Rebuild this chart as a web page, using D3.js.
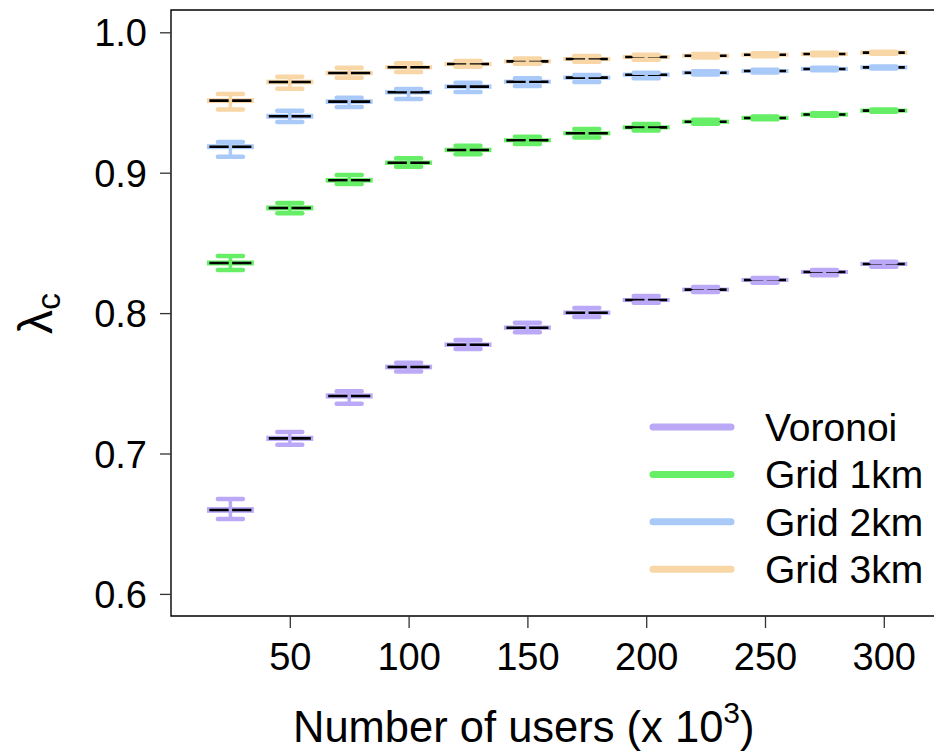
<!DOCTYPE html>
<html>
<head>
<meta charset="utf-8">
<script src="https://cdn.jsdelivr.net/npm/d3@7"></script>
<style>
  body { margin: 0; background: #fff; }
  svg text { font-family: "Liberation Sans", Arial, sans-serif; fill: #000; }
</style>
</head>
<body>
<svg id="chart" width="934" height="754"></svg>
<script>
// number of users (x 10^3)
const users = [25, 50, 75, 100, 125, 150, 175, 200, 225, 250, 275, 300]

// each row: [lower whisker, q1, median, q3, upper whisker]
const voronoi = [
  [0.6534, 0.6588, 0.6598, 0.6608, 0.6676],
  [0.7063, 0.7100, 0.7108, 0.7116, 0.7153],
  [0.7355, 0.7402, 0.7410, 0.7418, 0.7443],
  [0.7584, 0.7610, 0.7616, 0.7622, 0.7647],
  [0.7744, 0.7770, 0.7775, 0.7780, 0.7808],
  [0.7863, 0.7891, 0.7896, 0.7901, 0.7932],
  [0.7972, 0.7998, 0.8003, 0.8008, 0.8037],
  [0.8074, 0.8089, 0.8093, 0.8097, 0.8122],
  [0.8150, 0.8163, 0.8167, 0.8171, 0.8186],
  [0.8217, 0.8232, 0.8236, 0.8240, 0.8250],
  [0.8269, 0.8289, 0.8293, 0.8297, 0.8307],
  [0.8331, 0.8346, 0.8350, 0.8354, 0.8366]
]
const grid1 = [
  [0.8307, 0.8350, 0.8357, 0.8364, 0.8407],
  [0.8711, 0.8742, 0.8749, 0.8756, 0.8784],
  [0.8920, 0.8940, 0.8946, 0.8952, 0.8984],
  [0.9043, 0.9066, 0.9071, 0.9076, 0.9103],
  [0.9131, 0.9157, 0.9162, 0.9167, 0.9192],
  [0.9204, 0.9227, 0.9231, 0.9235, 0.9256],
  [0.9250, 0.9277, 0.9281, 0.9285, 0.9311],
  [0.9300, 0.9319, 0.9323, 0.9327, 0.9347],
  [0.9348, 0.9359, 0.9363, 0.9367, 0.9378],
  [0.9380, 0.9386, 0.9390, 0.9394, 0.9400],
  [0.9405, 0.9410, 0.9414, 0.9418, 0.9424],
  [0.9434, 0.9438, 0.9442, 0.9446, 0.9450]
]
const grid2 = [
  [0.9114, 0.9178, 0.9185, 0.9192, 0.9219],
  [0.9361, 0.9395, 0.9402, 0.9409, 0.9442],
  [0.9468, 0.9500, 0.9506, 0.9512, 0.9534],
  [0.9525, 0.9568, 0.9573, 0.9578, 0.9596],
  [0.9575, 0.9608, 0.9613, 0.9618, 0.9641],
  [0.9618, 0.9644, 0.9648, 0.9652, 0.9672],
  [0.9646, 0.9673, 0.9677, 0.9681, 0.9696],
  [0.9672, 0.9694, 0.9698, 0.9702, 0.9712],
  [0.9700, 0.9708, 0.9712, 0.9716, 0.9722],
  [0.9714, 0.9720, 0.9724, 0.9728, 0.9734],
  [0.9730, 0.9735, 0.9739, 0.9743, 0.9748],
  [0.9742, 0.9746, 0.9750, 0.9754, 0.9757]
]
const grid3 = [
  [0.9450, 0.9506, 0.9513, 0.9520, 0.9560],
  [0.9598, 0.9640, 0.9646, 0.9652, 0.9684],
  [0.9677, 0.9705, 0.9710, 0.9715, 0.9748],
  [0.9717, 0.9747, 0.9751, 0.9755, 0.9779],
  [0.9755, 0.9770, 0.9774, 0.9778, 0.9795],
  [0.9776, 0.9789, 0.9793, 0.9797, 0.9813],
  [0.9790, 0.9806, 0.9810, 0.9814, 0.9832],
  [0.9805, 0.9820, 0.9824, 0.9828, 0.9840],
  [0.9820, 0.9829, 0.9833, 0.9837, 0.9845],
  [0.9830, 0.9836, 0.9840, 0.9844, 0.9850],
  [0.9837, 0.9841, 0.9845, 0.9849, 0.9854],
  [0.9848, 0.9851, 0.9855, 0.9859, 0.9862]
]

const seriesNames = ["Voronoi", "Grid 1km", "Grid 2km", "Grid 3km"]
const seriesColors = ["#bba9f8", "#66ee66", "#a9c9f8", "#f8d6a6"]
const seriesData = [voronoi, grid1, grid2, grid3]

const yTicks = [0.6, 0.7, 0.8, 0.9, 1.0]
const xTicks = [50, 100, 150, 200, 250, 300]

const svg = d3.select("#chart")
const plotLeft = 171, plotTop = 10, plotBottom = 616

const x = d3.scaleLinear().domain([0, 330]).range([plotLeft, plotLeft + 330 * 2.376])
const y = d3.scaleLinear().domain([0.6, 1.0]).range([593.9, 32.3])

const boxW = 44, capW = 25

// frame (right side runs off the picture like in the original)
svg.append("path")
    .attr("d", `M${x(330)},${plotTop} H${plotLeft} V${plotBottom} H${x(330)}`)
    .attr("fill", "none")
    .attr("stroke", "#000")
    .attr("stroke-width", 1.4)

// y axis
const yAxis = svg.append("g")
    .attr("transform", `translate(${plotLeft},0)`)
    .call(d3.axisLeft(y).tickValues(yTicks).tickFormat(d3.format(".1f")).tickSize(11).tickPadding(13))
yAxis.select(".domain").remove()
yAxis.selectAll("line").attr("stroke", "#333").attr("stroke-width", 1.3)
yAxis.selectAll("text")
    .attr("font-size", 38)
    .attr("font-family", "Liberation Sans, Arial, sans-serif")
    .attr("dy", "0.36em")

// x axis
const xAxis = svg.append("g")
    .attr("transform", `translate(0,${plotBottom})`)
    .call(d3.axisBottom(x).tickValues(xTicks).tickSize(12).tickPadding(0))
xAxis.select(".domain").remove()
xAxis.selectAll("line").attr("stroke", "#333").attr("stroke-width", 1.3)
xAxis.selectAll("text")
    .attr("font-size", 38)
    .attr("font-family", "Liberation Sans, Arial, sans-serif")
    .attr("y", 54)
    .attr("dy", 0)

// boxplots
seriesData.forEach(function(rows, s) {
    const col = seriesColors[s]
    const g = svg.append("g")
    rows.forEach(function(r, i) {
        const cx = x(users[i])
        // box
        g.append("rect")
            .attr("x", cx - boxW / 2)
            .attr("y", y(r[3]))
            .attr("width", boxW)
            .attr("height", Math.max(0.5, y(r[1]) - y(r[3])))
            .attr("fill", "none")
            .attr("stroke", col)
            .attr("stroke-width", 3)
        // median
        g.append("line")
            .attr("x1", cx - boxW / 2 + 1).attr("x2", cx + boxW / 2 - 1)
            .attr("y1", y(r[2])).attr("y2", y(r[2]))
            .attr("stroke", "#000")
            .attr("stroke-width", 2.6)
        // whiskers
        g.append("line")
            .attr("x1", cx).attr("x2", cx)
            .attr("y1", y(r[0])).attr("y2", y(r[4]))
            .attr("stroke", col)
            .attr("stroke-width", 3.5)
        ;[r[0], r[4]].forEach(function(v) {
            g.append("line")
                .attr("x1", cx - capW / 2).attr("x2", cx + capW / 2)
                .attr("y1", y(v)).attr("y2", y(v))
                .attr("stroke", col)
                .attr("stroke-width", 4.5)
                .attr("stroke-linecap", "round")
        })
    })
})

// legend
const legend = svg.append("g")
seriesNames.forEach(function(name, i) {
    const ly = 427 + i * 47.4
    legend.append("line")
        .attr("x1", 653).attr("x2", 731)
        .attr("y1", ly).attr("y2", ly)
        .attr("stroke", seriesColors[i])
        .attr("stroke-width", 7)
        .attr("stroke-linecap", "round")
    legend.append("text")
        .attr("x", 765).attr("y", ly)
        .attr("dy", "0.36em")
        .attr("font-size", 39)
        .text(name)
})

// axis titles
const xt = svg.append("text")
    .attr("x", 293).attr("y", 742)
    .attr("font-size", 43.5)
xt.append("tspan").text("Number of users (x 10")
xt.append("tspan").attr("font-size", 30).attr("dy", -19).text("3")
xt.append("tspan").attr("dy", 19).text(")")

const yt = svg.append("text")
    .attr("transform", "translate(52,334) rotate(-90)")
    .attr("font-size", 48)
yt.append("tspan").text("λ")
yt.append("tspan").attr("font-size", 34).attr("dy", 8).text("c")
</script>
</body>
</html>
